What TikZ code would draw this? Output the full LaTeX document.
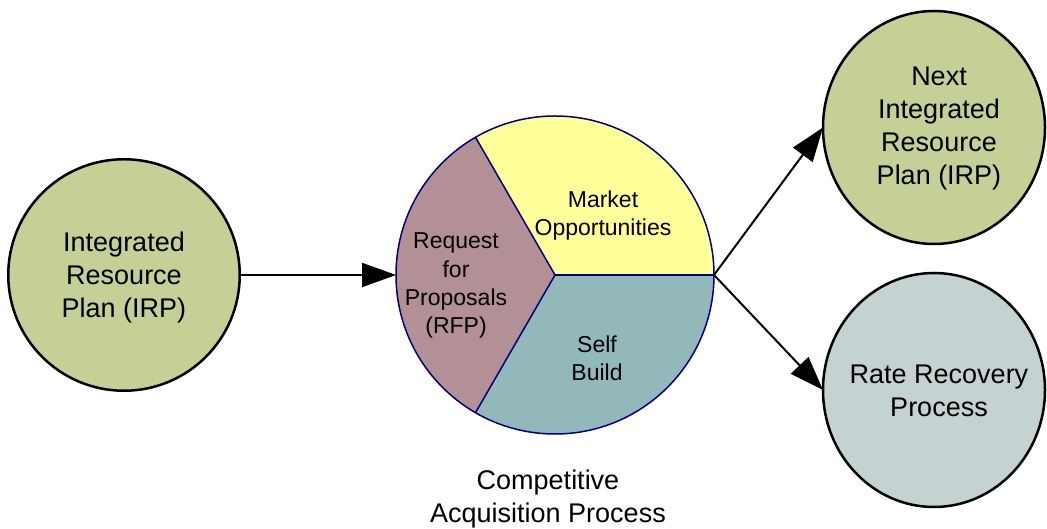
\documentclass[tikz,border=0pt]{standalone}
\usepackage{fontspec}
\setmainfont{Liberation Sans}
\usetikzlibrary{arrows.meta,shapes.geometric}
\definecolor{irpgreen}{HTML}{C4D095}
\definecolor{mktyellow}{HTML}{FFFF99}
\definecolor{rfpmauve}{HTML}{B29095}
\definecolor{selfteal}{HTML}{92B8BA}
\definecolor{rategrey}{HTML}{C4D3D2}
\definecolor{pienavy}{HTML}{000080}
\tikzset{
  bigcircle/.style={circle,draw=black,line width=2.5pt,inner sep=0pt,outer sep=0pt,minimum size=231.5pt},
  bigellipse/.style={ellipse,draw=black,line width=2.5pt,inner sep=0pt,outer sep=0pt,minimum width=222pt,minimum height=233pt},
  bigtext/.style={align=center,font=\fontsize{27}{33}\selectfont,inner sep=0pt},
  pietext/.style={align=center,font=\fontsize{23}{28.3}\selectfont,inner sep=0pt},
  arr/.style={-{Triangle[length=34pt,width=24pt]},line width=2pt,black},
  slice/.style={draw=pienavy,line width=1.5pt,line join=round}
}
\begin{document}
\begin{tikzpicture}[x=1pt,y=1pt]
\useasboundingbox (0,0) rectangle (1047,529);
% left circle
\node[bigcircle,fill=irpgreen] (irp) at (124,254) {};
\node[bigtext] (irptext) at (124,251.5) {Integrated\\Resource\\Plan (IRP)};
% pie
\node[circle,inner sep=0pt,outer sep=0pt,minimum size=318pt] (pie) at (555,254) {};
\fill[mktyellow] (pie.center) -- ++(0:159) arc[start angle=0,end angle=120,radius=159] -- cycle;
\fill[rfpmauve] (pie.center) -- ++(120:159) arc[start angle=120,end angle=240,radius=159] -- cycle;
\fill[selfteal] (pie.center) -- ++(240:159) arc[start angle=240,end angle=360,radius=159] -- cycle;
\draw[slice] (pie.center) -- ++(0:159);
\draw[slice] (pie.center) -- ++(120:159);
\draw[slice] (pie.center) -- ++(240:159);
\draw[slice] (pie.center) circle[radius=159];
\node[pietext] (mkt) at (603,313.5) {Market\\Opportunities};
\node[pietext] (rfp) at (456,243.3) {Request\\for\\Proposals\\(RFP)};
\node[pietext] (self) at (597,171) {Self\\Build};
\node[bigtext] (cap) at (548,29.5) {Competitive\\Acquisition Process};
% right shapes
\node[bigellipse,fill=irpgreen] (next) at (934,401.5) {};
\node[bigtext] (nexttext) at (939,400.5) {Next\\Integrated\\Resource\\Plan (IRP)};
\node[bigellipse,fill=rategrey,minimum height=234pt] (rate) at (934,139) {};
\node[bigtext] (ratetext) at (939,138) {Rate Recovery\\Process};
% arrows
\draw[arr] (irp.east) -- (pie.west);
\draw[arr] (pie.east) -- (next.west);
\draw[arr] (pie.east) -- (rate.west);
\end{tikzpicture}
\end{document}
